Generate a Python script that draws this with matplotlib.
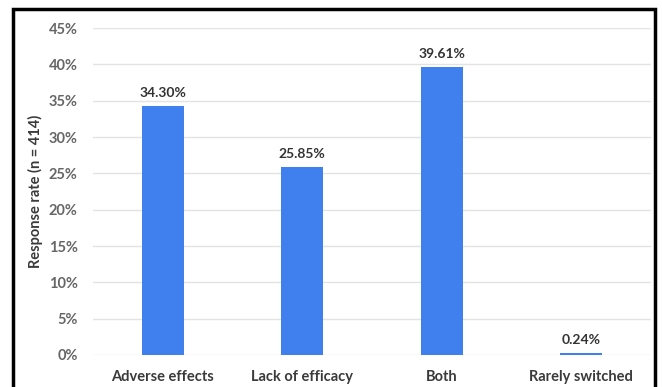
import matplotlib.pyplot as plt
from matplotlib.patches import Rectangle
from matplotlib.ticker import FuncFormatter

categorias = ['Adverse effects', 'Lack of efficacy', 'Both', 'Rarely switched']
tasas = [34.30, 25.85, 39.61, 0.24]
ticks_y = [0, 5, 10, 15, 20, 25, 30, 35, 40, 45]

plt.rcParams['font.family'] = ['Lato', 'DejaVu Sans']

fig = plt.figure(figsize=(6.62, 3.87), dpi=100, facecolor='white')
ax = fig.add_axes([93 / 662, 32 / 387, 558 / 662, 327 / 387])

x = range(len(categorias))
ax.bar(x, tasas, width=0.3, color='#3F80EE', zorder=3)

# Etiquetas de valor encima de cada barra
for xi, v in zip(x, tasas):
    ax.annotate(f'{v:.2f}%', (xi, v), xytext=(0, 5), textcoords='offset points',
                ha='center', va='bottom', fontsize=10, weight='bold', color='#333333')

ax.set_xlim(-0.5, len(categorias) - 0.5)
ax.set_ylim(0, 45)
ax.set_yticks(ticks_y)
ax.yaxis.set_major_formatter(FuncFormatter(lambda v, _: f'{v:.0f}%'))
ax.set_xticks(list(x))
ax.set_xticklabels(categorias)

ax.grid(axis='y', color='#e3e3e3', linewidth=1, zorder=0)
for s in ax.spines.values():
    s.set_visible(False)
ax.tick_params(length=0, labelsize=10.5)
ax.tick_params(axis='y', pad=11, labelcolor='#666666')
ax.tick_params(axis='x', pad=11, labelcolor='#3a3a3a')
for lbl in ax.get_xticklabels() + ax.get_yticklabels():
    lbl.set_fontweight('bold')

ax.set_ylabel('Response rate (n = 414)', fontsize=10.5, weight='bold',
              color='#3a3a3a', labelpad=4)

# Marco negro alrededor de la figura
fig.patches.append(Rectangle((13 / 662, -0.02), 642 / 662, 1.02 - 9 / 387,
                             transform=fig.transFigure, fill=False,
                             edgecolor='black', linewidth=2.5))

fig.savefig('out.png', dpi=100, facecolor='white')
